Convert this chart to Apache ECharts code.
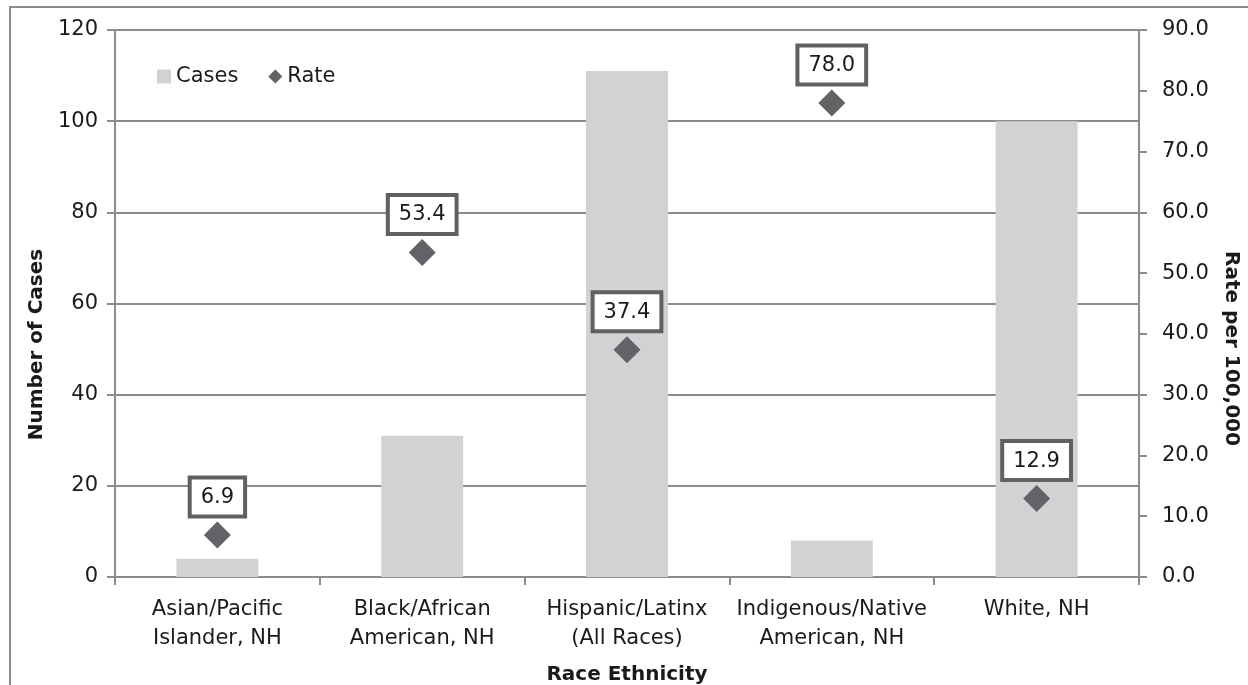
<!DOCTYPE html>
<html>
<head>
<meta charset="utf-8">
<script src="https://cdn.jsdelivr.net/npm/echarts@6/dist/echarts.min.js"></script>
<style>
  html, body { margin: 0; padding: 0; background: #fff; }
  #chart { width: 1248px; height: 685px; }
</style>
</head>
<body>
<div id="chart"></div>
<script>
// Cases and rate per 100,000 by race / ethnicity
const categories = [
  'Asian/Pacific\nIslander, NH',
  'Black/African\nAmerican, NH',
  'Hispanic/Latinx\n(All Races)',
  'Indigenous/Native\nAmerican, NH',
  'White, NH'
];
const cases = [4, 31, 111, 8, 100];
const rates = [6.9, 53.4, 37.4, 78.0, 12.9];

const FONT = '"DejaVu Sans", Verdana, sans-serif';
const TEXT = '#1a1a1a';
const LINE = '#8c8c8c';

const chart = echarts.init(document.getElementById('chart'), null, { renderer: 'canvas' });

chart.setOption({
  animation: false,
  backgroundColor: '#fff',
  textStyle: { fontFamily: FONT, color: TEXT },
  graphic: [{
    type: 'rect',
    shape: { x: 10, y: 7, width: 1250, height: 700 },
    style: { fill: 'none', stroke: LINE, lineWidth: 2 },
    silent: true,
    z: -1
  }],
  grid: { left: 115, right: 109, top: 30, bottom: 108, containLabel: false, outerBoundsMode: 'none' },
  legend: {
    left: 152,
    top: 61,
    itemGap: 30,
    itemWidth: 14,
    itemHeight: 14,
    textStyle: { fontFamily: FONT, fontSize: 21, color: TEXT },
    data: [
      { name: 'Cases', icon: 'rect', itemStyle: { color: '#d1d2d4', opacity: 1 } },
      { name: 'Rate', icon: 'diamond', itemStyle: { color: '#626366', opacity: 1 } }
    ]
  },
  xAxis: {
    type: 'category',
    data: categories,
    name: 'Race Ethnicity',
    nameLocation: 'middle',
    nameGap: 88,
    nameTextStyle: { fontFamily: FONT, fontSize: 20, fontWeight: 'bold', color: TEXT },
    axisLine: { lineStyle: { color: LINE, width: 2 } },
    axisTick: { show: true, length: 8, alignWithLabel: false, lineStyle: { color: LINE, width: 2 } },
    axisLabel: { fontFamily: FONT, fontSize: 21, color: TEXT, margin: 18, lineHeight: 29, interval: 0 }
  },
  yAxis: [{
    type: 'value',
    min: 0,
    max: 120,
    interval: 20,
    name: 'Number of Cases',
    nameLocation: 'middle',
    nameGap: 66,
    nameTextStyle: { fontFamily: FONT, fontSize: 20, fontWeight: 'bold', color: TEXT, padding: [0, 82, 0, 0] },
    axisLine: { show: true, lineStyle: { color: LINE, width: 2 } },
    axisTick: { show: true, length: 8, lineStyle: { color: LINE, width: 2 } },
    axisLabel: { fontFamily: FONT, fontSize: 21, color: TEXT, margin: 17 },
    splitLine: { show: true, lineStyle: { color: LINE, width: 2 } }
  }, {
    type: 'value',
    min: 0,
    max: 90,
    interval: 10,
    position: 'right',
    name: 'Rate per 100,000',
    nameLocation: 'middle',
    nameRotate: -90,
    nameGap: 82,
    nameTextStyle: { fontFamily: FONT, fontSize: 20, fontWeight: 'bold', color: TEXT, padding: [0, 0, 0, 90] },
    axisLine: { show: true, lineStyle: { color: LINE, width: 2 } },
    axisTick: { show: true, length: 8, lineStyle: { color: LINE, width: 2 } },
    axisLabel: { fontFamily: FONT, fontSize: 21, color: TEXT, margin: 23, formatter: v => v.toFixed(1) },
    splitLine: { show: false }
  }],
  series: [{
    name: 'Cases',
    type: 'bar',
    yAxisIndex: 0,
    data: cases,
    barWidth: '40%',
    itemStyle: { color: '#d1d2d4' },
    z: 2
  }, {
    name: 'Rate',
    type: 'scatter',
    yAxisIndex: 1,
    data: rates,
    symbol: 'diamond',
    symbolSize: 27,
    itemStyle: { color: '#626366', opacity: 1 },
    label: {
      show: true,
      position: 'top',
      distance: 7,
      formatter: p => p.value.toFixed(1),
      fontFamily: FONT,
      fontSize: 21,
      color: TEXT,
      opacity: 1,
      backgroundColor: '#fff',
      borderColor: '#5f6062',
      borderWidth: 4,
      padding: [6, 9, 5, 9],
      lineHeight: 24
    },
    emphasis: { disabled: true },
    z: 5
  }]
});
</script>
</body>
</html>
